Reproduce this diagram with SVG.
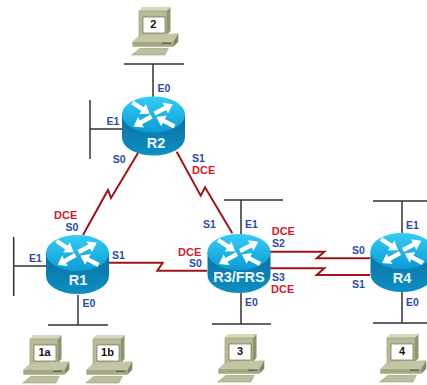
<svg xmlns="http://www.w3.org/2000/svg" width="427" height="385" viewBox="0 0 427 385">
<style>
text{font-family:"Liberation Sans",Arial,sans-serif;font-weight:bold}
.b{fill:#2a4ca6;font-size:10.500px}
.r{fill:#cc2030;font-size:11px}
.n{fill:#eaf6fb;font-size:14.500px;text-anchor:middle}
.e{stroke:#333;stroke-width:1.500;fill:none}
.s{stroke:#a01418;stroke-width:2;fill:none}
.t{fill:#111;font-size:11px;text-anchor:middle}
</style>
<defs>
<linearGradient id="top" x1="0" y1="0" x2="0" y2="1"><stop offset="0" stop-color="#35ccf6"/><stop offset="1" stop-color="#0c9cd4"/></linearGradient>
<linearGradient id="side" x1="0" y1="0" x2="0" y2="1"><stop offset="0" stop-color="#0a719f"/><stop offset="1" stop-color="#0d8fc2"/></linearGradient>
<path id="arr" d="M0,-2.200H12V-6L20.500,0L12,6V2.200H0Z" fill="#fff"/>
<g id="router">
<path d="M-31.500,-11.500V11.500A31.500,18 0 0 0 31.500,11.500V-11.500Z" fill="url(#side)"/>
<ellipse cx="0" cy="-11.500" rx="31.500" ry="18" fill="url(#top)"/>
<g transform="translate(0,-11.500)">
<use href="#arr" transform="translate(-21,-12) rotate(33)"/>
<use href="#arr" transform="translate(1,-1) rotate(-27)"/>
<use href="#arr" transform="translate(-2,2) rotate(151)"/>
<use href="#arr" transform="translate(21,12) rotate(-152)"/>
</g>
</g>
<g id="pc">
<path d="M0,0L3,-4H31.500L28,0Z" fill="#d6d8bc"/>
<path d="M28,0L31.500,-4V20L28,24Z" fill="#8f9470"/>
<rect x="0" y="0" width="28" height="25" fill="#b9bb96" stroke="#8f9470" stroke-width=".6"/>
<rect x="4" y="6" width="22" height="16" fill="#fff" stroke="#55583f" stroke-width=".6"/>
<path d="M-6.700,30.700L0,24.500L39.300,22.300L34.300,30.700Z" fill="#c3c5a4"/>
<path d="M-6.700,30.700H34.300V35.700H-6.700Z" fill="#a4a783"/>
<path d="M34.300,30.700L39.300,22.300V30.700L34.300,35.700Z" fill="#83876a"/>
<rect x="23" y="31.500" width="9" height="1.500" fill="#666a50"/>
<path d="M-7.300,44L1,37.300H29.300L26,44Z" fill="#bcbe9c" stroke="#8f9470" stroke-width=".5"/>
</g>
</defs>
<g id="connectors">
<path class="e" d="M124,64H184M153,64V97M90,100V159M90,129H122"/>
<path class="e" d="M13.700,237V296M13.700,266H46M48,325H108M78,295V325"/>
<path class="e" d="M224,200H283M241,200V234M241,293V324M212,324H271"/>
<path class="e" d="M373,201H427M402,201V233M402,292V323M373,323H427"/>
<path class="s" d="M138,153L111,198L108,190L83,235"/>
<path class="s" d="M176.700,151.700L200.700,195.700L205,187.300L232.300,233.300"/>
<path class="s" d="M109,262.700H162.700L157.300,270.700H207"/>
<path class="s" d="M270,251.700H324.300L316.700,258.300H370"/>
<path class="s" d="M270,268.300H324.300L316.700,275H370"/>
</g>
<g id="r1"><use href="#router" x="77.500" y="264.500"/><text class="n" x="78" y="285">R1</text></g>
<g id="r2"><use href="#router" x="153.500" y="126"/><text class="n" x="156" y="148">R2</text></g>
<g id="r3"><use href="#router" x="239" y="263.500"/><text class="n" x="239" y="282">R3/FRS</text></g>
<g id="r4"><use href="#router" x="402" y="262.500"/><text class="n" x="402" y="283">R4</text></g>
<g id="pc2"><use href="#pc" x="139" y="11"/><text class="t" x="153.300" y="28.300">2</text></g>
<g id="pc1a"><use href="#pc" x="30" y="339"/><text class="t" x="44.500" y="356.300">1a</text></g>
<g id="pc1b"><use href="#pc" x="93" y="339"/><text class="t" x="107.500" y="356.300">1b</text></g>
<g id="pc3"><use href="#pc" x="225" y="338"/><text class="t" x="240" y="355.300">3</text></g>
<g id="pc4"><use href="#pc" x="387" y="338"/><text class="t" x="402" y="355.300">4</text></g>
<g id="labels">
<text class="b" x="157.500" y="92">E0</text><text class="b" x="106.500" y="125">E1</text>
<text class="b" x="112.700" y="163">S0</text><text class="b" x="192" y="162">S1</text><text class="r" x="192" y="173.500">DCE</text>
<text class="r" x="54" y="219">DCE</text><text class="b" x="65.500" y="230.700">S0</text><text class="b" x="29" y="262">E1</text><text class="b" x="112" y="259">S1</text><text class="b" x="82.500" y="306.700">E0</text>
<text class="b" x="203" y="228">S1</text><text class="b" x="245" y="228">E1</text><text class="r" x="271.700" y="235">DCE</text><text class="b" x="272" y="246.700">S2</text>
<text class="r" x="178" y="255.500">DCE</text><text class="b" x="189" y="267">S0</text><text class="b" x="272" y="281">S3</text><text class="r" x="271" y="292.500">DCE</text><text class="b" x="245" y="306">E0</text>
<text class="b" x="352" y="254">S0</text><text class="b" x="352" y="288">S1</text><text class="b" x="406" y="229">E1</text><text class="b" x="406" y="306">E0</text>
</g>
</svg>
